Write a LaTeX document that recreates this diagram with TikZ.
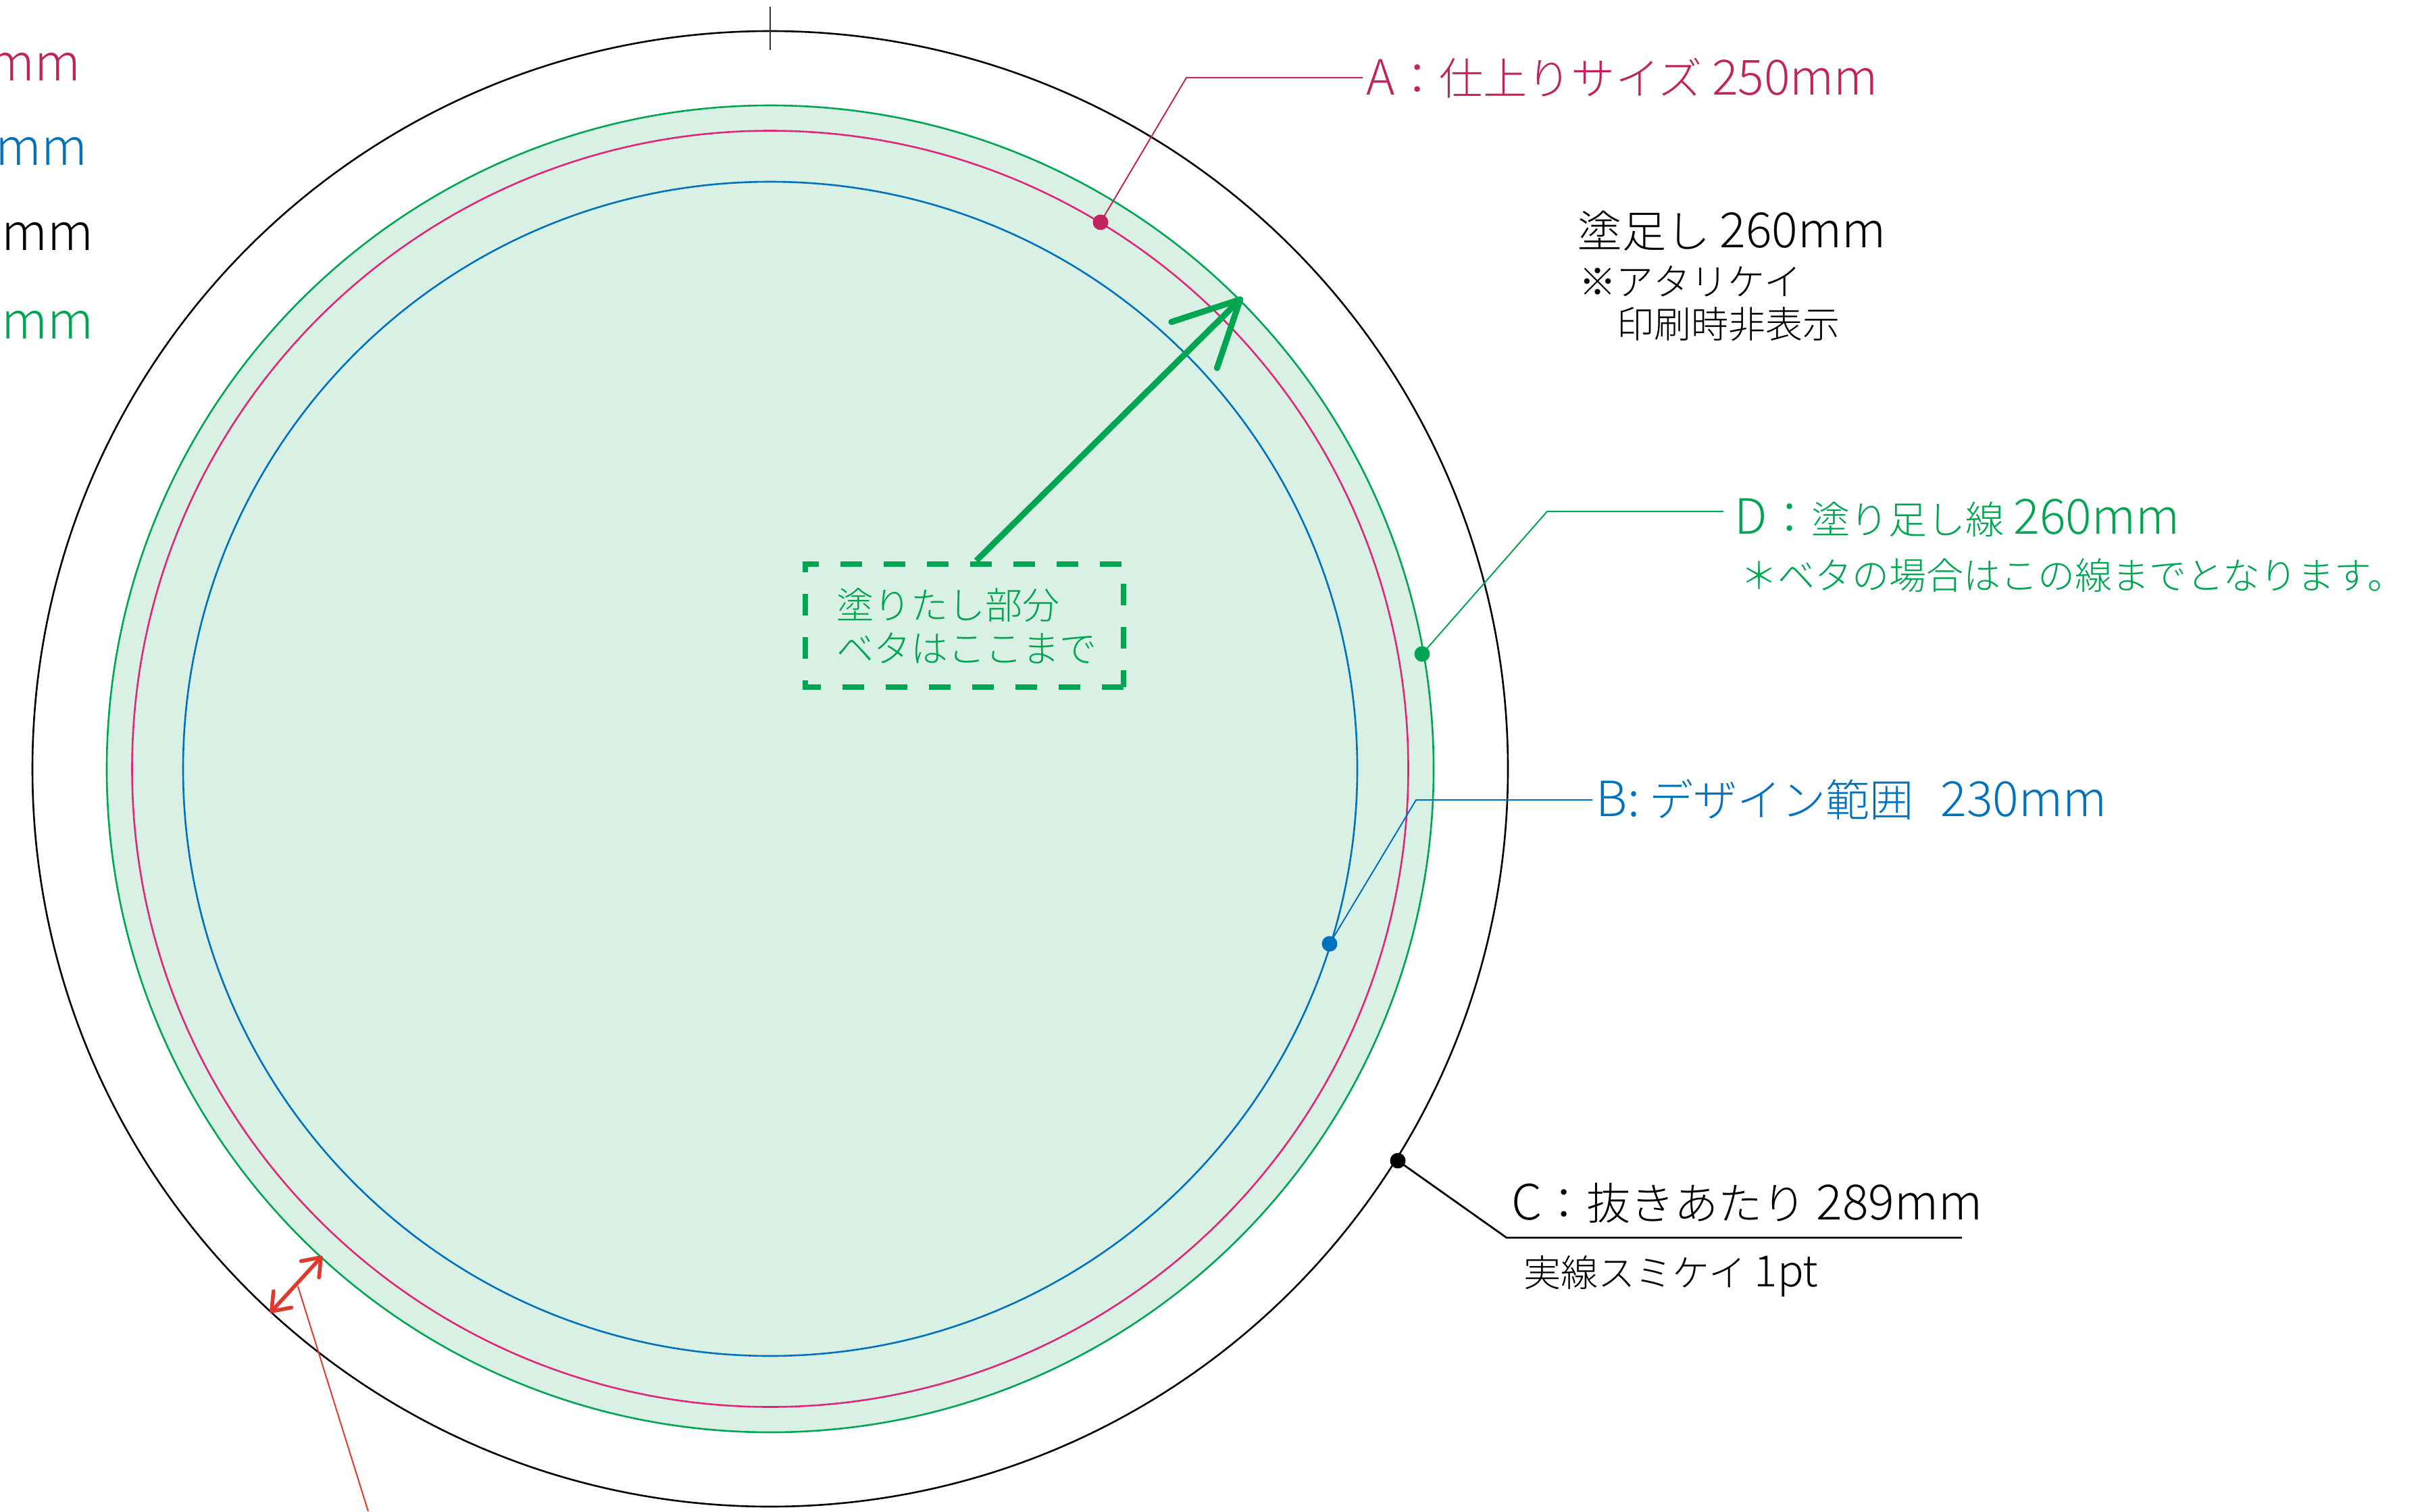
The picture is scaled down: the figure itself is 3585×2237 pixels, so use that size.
\documentclass[tikz,border=0pt]{standalone}
\usepackage{fontspec}
\setmainfont{Noto Sans CJK JP Light}
\usetikzlibrary{arrows.meta}
\definecolor{cGreen}{HTML}{00A551}
\definecolor{cFill}{HTML}{D9F0E4}
\definecolor{cMag}{HTML}{E0267B}
\definecolor{cMagT}{HTML}{C1245C}
\definecolor{cBlue}{HTML}{0071BC}
\definecolor{cRed}{HTML}{DF3A30}
\newcommand\fpx[1]{\fontsize{#1pt}{#1pt}\selectfont}
\newcommand\ltn[1]{{\fpx{18}#1}}
\tikzset{
  lab/.style={anchor=base west,inner sep=0pt,inner xsep=1.25pt,font=\fpx{16.3}},
  sub/.style={anchor=base west,inner sep=0pt,font=\fpx{13.75}},
  dot/.style={circle,fill=#1,inner sep=0pt,minimum size=5.75pt},
  ring/.style={line width=.65pt},
  lead/.style={line width=.5pt},
  edge/.style={anchor=base east,inner sep=0pt,font=\fpx{18.8}},
}
\begin{document}
\begin{tikzpicture}[x=.25pt,y=-.25pt]
\useasboundingbox (0,0) rectangle (3585,2237);
% circles
\draw[ring,draw=cGreen,fill=cFill] (1140,1138) circle[radius=982];
\draw[ring,draw=cMag] (1140,1138) circle[radius=944.5];
\draw[ring,draw=cBlue] (1140,1138) circle[radius=869];
\draw[ring,draw=black] (1140,1138) circle[radius=1092];
\draw[line width=.35pt,draw=black!80] (1140,10) -- (1140,74);
% left clipped labels
\node[edge,text=cMagT] (lm) at (120,120) {mm};
\node[edge,text=cBlue] (lb) at (130,245) {mm};
\node[edge,text=black] (lk) at (139,370) {0mm};
\node[edge,text=cGreen] (lg) at (139,501) {0mm};
% A
\node[dot=cMagT] (dA) at (1629,329) {};
\coordinate (eA) at (1756,115);
\node[lab,text=cMagT] (tA) at (2017,141) {\ltn{A}：仕上りサイズ \ltn{250mm}};
\draw[lead,draw=cMagT] (dA.center) -- (eA) -- (eA -| tA.west);
% bleed note
\node[sub,font=\fpx{16.3}] (t0) at (2335,366) {塗足し \ltn{260mm}};
\node[sub] (t1) at (2337,437) {※アタリケイ};
\node[sub] (t2) at (2393,500) {印刷時非表示};
% D
\node[dot=cGreen] (dD) at (2105,968) {};
\coordinate (eD) at (2290,757);
\node[lab,text=cGreen] (tD) at (2562,790) {\ltn{D}：{\fpx{14.25}塗り足し線} \ltn{260mm}};
\draw[lead,draw=cGreen] (dD.center) -- (eD) -- (2551,757);
\node[sub,text=cGreen] (tD2) at (2576,872) {＊ベタの場合はこの線までとなります。};
% B
\node[dot=cBlue] (dB) at (1968,1397) {};
\coordinate (eB) at (2096,1184);
\node[lab,text=cBlue] (tB) at (2357,1208) {\ltn{B:} デザイン範囲\hspace{10pt}\ltn{230mm}};
\draw[lead,draw=cBlue] (dB.center) -- (eB) -- (eB -| tB.west);
% C
\node[dot=black] (dC) at (2069,1718) {};
\coordinate (eC) at (2230,1832);
\coordinate (fC) at (2904,1832);
\node[lab] (tC) at (2232,1805) {\ltn{C}：抜きあたり \ltn{289mm}};
\draw[line width=.7pt] (dC.center) -- (eC) -- (fC);
\node[sub] (tC2) at (2255,1904) {実線スミケイ {\fpx{16}1pt}};
% green box
\node[inner sep=0pt,minimum width=117.25pt,minimum height=45pt,anchor=north west] (box) at (1192,835) {};
\draw[line width=2pt,draw=cGreen,dash pattern=on 8pt off 8pt]
  (box.south east) -- (box.south west) -- (box.north west) -- (box.north east) -- cycle;
\node[sub,text=cGreen] (bt1) at (1238,916) {塗りたし部分};
\node[sub,text=cGreen] (bt2) at (1238,980) {ベタはここまで};
% green arrow
\coordinate (gS) at (1445,830);
\coordinate (gT) at (1839,440);
\draw[line width=2.25pt,draw=cGreen,-{Straight Barb[length=24pt,width=24pt,round=false]}] (gS) -- (gT);
% red
\coordinate (rA) at (400,1943);
\coordinate (rB) at (477,1859);
\coordinate (rL) at (441,1904);
\coordinate (rE) at (545,2237);
\draw[line width=1.4pt,draw=cRed,line cap=round,{Straight Barb[length=6pt,width=9pt,round]}-{Straight Barb[length=6pt,width=9pt,round]}] (rA) -- (rB);
\draw[line width=.5pt,draw=cRed] (rL) -- (rE);
\end{tikzpicture}
\end{document}
